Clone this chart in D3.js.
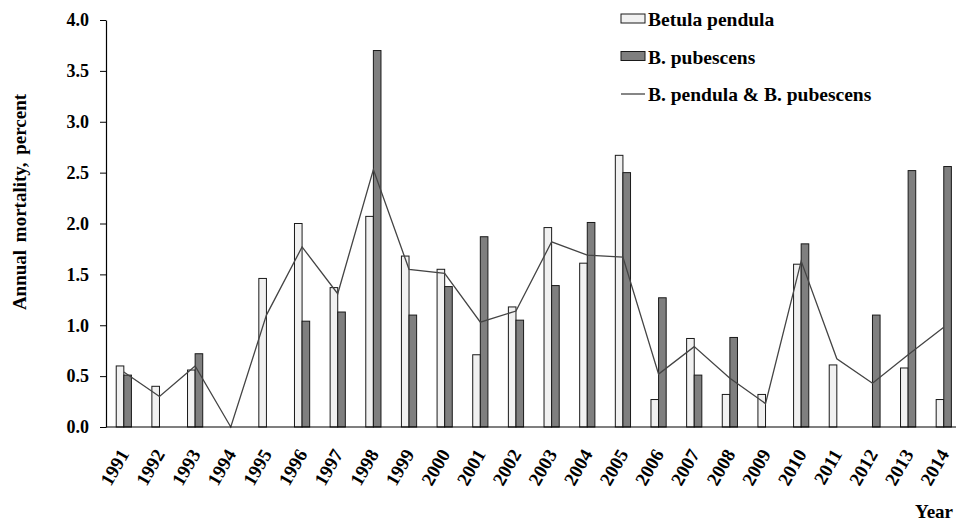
<!DOCTYPE html>
<html>
<head>
<meta charset="utf-8">
<script src="https://cdn.jsdelivr.net/npm/d3@7"></script>
<style>
  html, body { margin: 0; padding: 0; background: #fff; }
  svg { display: block; }
  text { font-family: "Liberation Serif", "Times New Roman", serif; font-weight: bold; fill: #000; }
</style>
</head>
<body>
<svg id="chart" width="956" height="524"></svg>
<script>
const years = ["1991","1992","1993","1994","1995","1996","1997","1998","1999","2000","2001","2002","2003","2004","2005","2006","2007","2008","2009","2010","2011","2012","2013","2014"];
const pendula = [0.60,0.40,0.56,0,1.46,2.00,1.37,2.07,1.68,1.55,0.71,1.18,1.96,1.61,2.67,0.27,0.87,0.32,0.32,1.60,0.61,0,0.58,0.27];
const pubescens = [0.51,0,0.72,0,0,1.04,1.13,3.70,1.10,1.38,1.87,1.05,1.39,2.01,2.50,1.27,0.51,0.88,0,1.80,0,1.10,2.52,2.56];
const combined = [0.54,0.30,0.60,0,1.10,1.77,1.31,2.53,1.55,1.51,1.03,1.14,1.82,1.69,1.67,0.52,0.79,0.48,0.23,1.63,0.67,0.43,0.71,0.98];
const yTicks = [0,0.5,1.0,1.5,2.0,2.5,3.0,3.5,4.0];
const legendLabels = ["Betula pendula","B. pubescens","B. pendula & B. pubescens"];
const yTitle = "Annual mortality, percent";
const xTitle = "Year";

const svg = d3.select("#chart");
const x0 = 106, x1 = 961.6, yTop = 20, yBase = 427;
const x = d3.scaleBand().domain(years).range([x0, x1]).paddingInner(0).paddingOuter(0);
const y = d3.scaleLinear().domain([0, 4]).range([yBase, yTop]);
const bw = 7.6;
const cx = yr => x(yr) + x.bandwidth() / 2;

// bars
const g = svg.append("g");
g.selectAll("rect.pend").data(years.map((yr,i)=>({yr, v:pendula[i]})).filter(d=>d.v>0))
  .join("rect").attr("class","pend")
  .attr("x", d => cx(d.yr) - bw).attr("width", bw)
  .attr("y", d => y(d.v)).attr("height", d => yBase - y(d.v))
  .attr("fill", "#f1f1f1").attr("stroke", "#1a1a1a").attr("stroke-width", 1);
g.selectAll("rect.pub").data(years.map((yr,i)=>({yr, v:pubescens[i]})).filter(d=>d.v>0))
  .join("rect").attr("class","pub")
  .attr("x", d => cx(d.yr)).attr("width", bw)
  .attr("y", d => y(d.v)).attr("height", d => yBase - y(d.v))
  .attr("fill", "#7f7f7f").attr("stroke", "#1a1a1a").attr("stroke-width", 1);

// line
const line = d3.line().x((d,i)=>cx(years[i])).y(d=>y(d));
svg.append("path").datum(combined).attr("d", line)
  .attr("fill","none").attr("stroke","#444").attr("stroke-width",1.3);

// y axis
const yAxis = d3.axisLeft(y).tickValues(yTicks).tickFormat(d3.format(".1f")).tickSize(6).tickPadding(11).tickSizeOuter(0);
const ya = svg.append("g").attr("transform", `translate(${x0},0)`).call(yAxis);
ya.select(".domain").attr("stroke","#000").attr("stroke-width",1.2);
ya.selectAll(".tick line").attr("stroke","#000");
ya.selectAll("text").style("font-size","18px").style("font-family","'Liberation Serif', serif").style("font-weight","bold");

// x axis
const xAxis = d3.axisBottom(x).tickSize(0).tickSizeOuter(0).tickPadding(0);
const xa = svg.append("g").attr("transform", `translate(0,${yBase})`).call(xAxis);
xa.select(".domain").attr("stroke","#000").attr("stroke-width",1.2).attr("d", `M${x0},0H956`);
xa.selectAll(".tick text")
  .style("font-size","19px").style("font-family","'Liberation Serif', serif").style("font-weight","bold")
  .attr("text-anchor","end").attr("dy", null).attr("y", 0)
  .attr("transform", "translate(6,27) rotate(-60)");

// axis titles
svg.append("text").attr("transform", "translate(26,202) rotate(-90)")
  .attr("text-anchor","middle").style("font-size","19px").style("word-spacing","3px").text(yTitle);
svg.append("text").attr("x", 953).attr("y", 518).attr("text-anchor","end").style("font-size","19px").text(xTitle);

// legend
const lx = 621, baselines = [26, 63.5, 101];
const leg = svg.append("g");
leg.append("rect").attr("x", lx).attr("y", baselines[0]-12).attr("width", 24).attr("height", 9)
  .attr("fill","#f1f1f1").attr("stroke","#1a1a1a");
leg.append("rect").attr("x", lx).attr("y", baselines[1]-12).attr("width", 24).attr("height", 9)
  .attr("fill","#7f7f7f").attr("stroke","#1a1a1a");
leg.append("line").attr("x1", lx).attr("x2", lx+24).attr("y1", baselines[2]-7).attr("y2", baselines[2]-7)
  .attr("stroke","#444").attr("stroke-width",1.3);
leg.selectAll("text.l").data(legendLabels).join("text").attr("class","l")
  .attr("x", lx+27).attr("y", (d,i)=>baselines[i]).style("font-size","19.5px").text(d=>d);
</script>
</body>
</html>
